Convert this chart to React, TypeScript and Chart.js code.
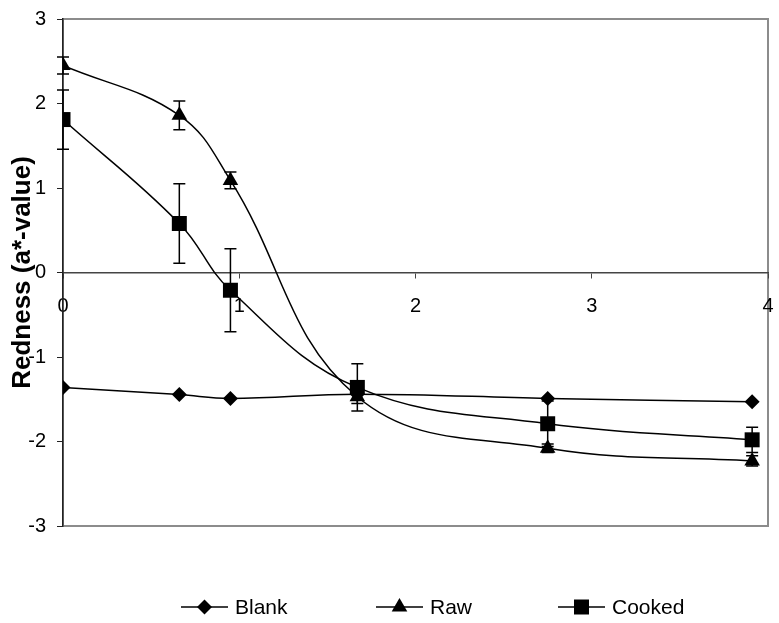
import React, { useEffect, useRef } from "react";
import { Chart, registerables } from "chart.js";

Chart.register(...registerables);

const xValues = [0, 0.66, 0.95, 1.67, 2.75, 3.91];
const blankValues = [-1.36, -1.445, -1.49, -1.44, -1.49, -1.53];
const rawValues = [2.45, 1.86, 1.09, -1.47, -2.08, -2.23];
const rawErrors = [0.1, 0.17, 0.1, 0.08, 0.05, 0.06];
const cookedValues = [1.81, 0.58, -0.21, -1.36, -1.79, -1.98];
const cookedErrors = [0.35, 0.47, 0.49, 0.28, 0.27, 0.15];
const seriesLabels = ["Blank", "Raw", "Cooked"];
const yTitle = "Redness (a*-value)";

const FONT = "'Liberation Sans', Arial, sans-serif";

export default function App() {
  const ref = useRef<HTMLCanvasElement>(null);

  useEffect(() => {
    const canvas = ref.current;
    if (!canvas) return;

    const toPts = (vals: number[]) => xValues.map((x, i) => ({ x, y: vals[i] }));
    const base = {
      borderColor: "#000",
      backgroundColor: "#000",
      borderWidth: 1.5,
      pointBorderWidth: 0,
      pointBackgroundColor: "#000",
      tension: 0.4,
      fill: false,
    };
    const styles: any[] = [
      { pointStyle: "rectRot", pointRadius: 7.5 },
      { pointStyle: "triangle", pointRadius: 9 },
      { pointStyle: "rect", pointRadius: 10.6 },
    ];
    const errors: (number[] | null)[] = [null, rawErrors, cookedErrors];

    const boxPlugin = {
      id: "box",
      beforeDraw(chart: any) {
        const { ctx, chartArea: a } = chart;
        ctx.save();
        ctx.strokeStyle = "#8c8c8c";
        ctx.lineWidth = 2;
        ctx.strokeRect(a.left, a.top, a.right - a.left, a.bottom - a.top);
        ctx.restore();
      },
    };

    const errPlugin = {
      id: "errbars",
      afterDatasetsDraw(chart: any) {
        const { ctx } = chart;
        const xs = chart.scales.x;
        const ys = chart.scales.y;
        ctx.save();
        ctx.strokeStyle = "#000";
        ctx.lineWidth = 1.5;
        chart.data.datasets.forEach((ds: any, di: number) => {
          const e = errors[di];
          if (!e) return;
          ds.data.forEach((p: any, i: number) => {
            const px = xs.getPixelForValue(p.x);
            const top = ys.getPixelForValue(p.y + e[i]);
            const bot = ys.getPixelForValue(p.y - e[i]);
            ctx.beginPath();
            ctx.moveTo(px, top);
            ctx.lineTo(px, bot);
            ctx.moveTo(px - 6, top);
            ctx.lineTo(px + 6, top);
            ctx.moveTo(px - 6, bot);
            ctx.lineTo(px + 6, bot);
            ctx.stroke();
          });
        });
        ctx.restore();
      },
    };

    const legendStarts = [181, 376, 558];
    const legendPlugin = {
      id: "customLegend",
      afterDraw(chart: any) {
        const { ctx } = chart;
        const y = 607;
        ctx.save();
        chart.data.datasets.forEach((ds: any, i: number) => {
          const x0 = legendStarts[i];
          ctx.strokeStyle = "#000";
          ctx.lineWidth = 1.5;
          ctx.beginPath();
          ctx.moveTo(x0, y);
          ctx.lineTo(x0 + 47, y);
          ctx.stroke();
          ctx.fillStyle = "#000";
          const cx = x0 + 23.5;
          ctx.beginPath();
          if (i === 0) {
            ctx.moveTo(cx, y - 7.5);
            ctx.lineTo(cx + 7.5, y);
            ctx.lineTo(cx, y + 7.5);
            ctx.lineTo(cx - 7.5, y);
          } else if (i === 1) {
            ctx.moveTo(cx, y - 9);
            ctx.lineTo(cx + 7.8, y + 4.5);
            ctx.lineTo(cx - 7.8, y + 4.5);
          } else {
            ctx.rect(cx - 7.5, y - 7.5, 15, 15);
          }
          ctx.closePath();
          ctx.fill();
          ctx.font = `21px ${FONT}`;
          ctx.textBaseline = "middle";
          ctx.textAlign = "left";
          ctx.fillText(ds.label, x0 + 54, y + 1);
        });
        ctx.restore();
      },
    };

    const zeroPad = (scale: any) => {
      scale.paddingLeft = 0;
      scale.paddingRight = 0;
      scale.paddingTop = 0;
      scale.paddingBottom = 0;
    };

    const chart = new Chart(canvas, {
      type: "line",
      data: {
        datasets: [
          { label: seriesLabels[0], data: toPts(blankValues), ...base, ...styles[0] },
          { label: seriesLabels[1], data: toPts(rawValues), ...base, ...styles[1] },
          { label: seriesLabels[2], data: toPts(cookedValues), ...base, ...styles[2] },
        ],
      },
      options: {
        animation: false,
        responsive: false,
        layout: { padding: { left: 0, top: 19, right: 11, bottom: 97 } },
        plugins: {
          legend: { display: false },
          tooltip: { enabled: false },
        },
        scales: {
          x: {
            type: "linear",
            min: 0,
            max: 4,
            position: { y: 0 } as any,
            ticks: {
              stepSize: 1,
              color: "#000",
              font: { family: FONT, size: 20 },
              padding: 17,
              maxRotation: 0,
            },
            grid: { drawOnChartArea: false, drawTicks: true, tickLength: 5, color: "#444" },
            border: { color: "#444", width: 1.5 },
            afterFit: zeroPad,
          },
          y: {
            type: "linear",
            min: -3,
            max: 3,
            ticks: {
              stepSize: 1,
              color: "#000",
              font: { family: FONT, size: 20 },
              padding: 11,
            },
            grid: { drawOnChartArea: false, drawTicks: true, tickLength: 6, color: "#222" },
            border: { color: "#222", width: 1.5 },
            title: {
              display: true,
              text: yTitle,
              color: "#000",
              font: { family: FONT, size: 26, weight: "bold" },
              padding: { top: 7, bottom: 0 },
            },
            afterFit(scale: any) {
              scale.width = 63;
              zeroPad(scale);
            },
          },
        },
      },
      plugins: [boxPlugin, errPlugin, legendPlugin],
    });

    return () => chart.destroy();
  }, []);

  return (
    <div style={{ position: "fixed", left: 0, top: 0, width: 779, height: 623, background: "#fff" }}>
      <canvas ref={ref} width={779} height={623} style={{ width: 779, height: 623, display: "block" }} />
    </div>
  );
}
